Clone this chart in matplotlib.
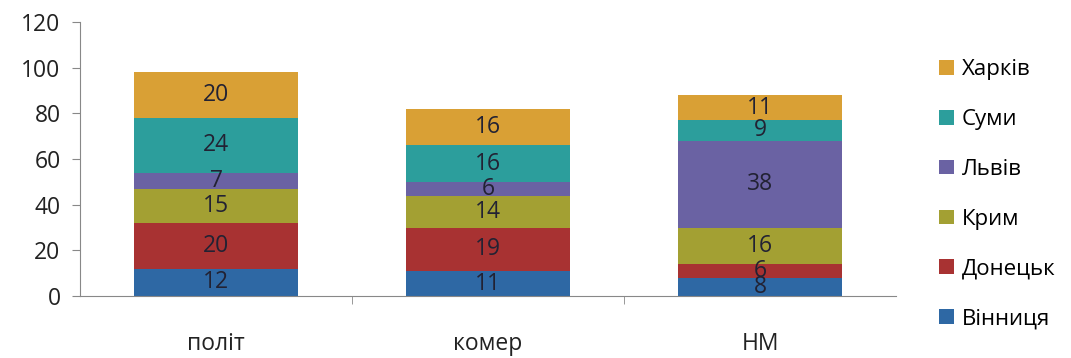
import matplotlib.pyplot as plt
import numpy as np
from matplotlib.patches import Patch

plt.rcParams['font.family'] = ['Open Sans', 'DejaVu Sans']

# Категорії та значення по регіонах
categories = ['політ', 'комер', 'НМ']
regions = ['Вінниця', 'Донецьк', 'Крим', 'Львів', 'Суми', 'Харків']
vinnytsia = [12, 11, 8]
donetsk = [20, 19, 6]
krym = [15, 14, 16]
lviv = [7, 6, 38]
sumy = [24, 16, 9]
kharkiv = [20, 16, 11]

series = [vinnytsia, donetsk, krym, lviv, sumy, kharkiv]
colors = ['#2e68a4', '#a83232', '#a3a033', '#6a62a3', '#2c9e9c', '#d9a035']

fig = plt.figure(figsize=(10.71, 3.58), dpi=100)
ax = fig.add_axes([0.0747, 0.173, 0.762, 0.7655])

x = np.arange(len(categories))
bottom = np.zeros(len(categories))
for vals, col in zip(series, colors):
    vals = np.array(vals, dtype=float)
    ax.bar(x, vals, width=0.6, bottom=bottom, color=col, edgecolor='none')
    for xi, b, v in zip(x, bottom, vals):
        ax.text(xi, b + v / 2, f'{v:.0f}', ha='center', va='center',
                fontsize=16.5, color='#222233')
    bottom += vals

ax.set_xlim(-0.5, 2.5)
ax.set_ylim(0, 120)
ax.set_yticks(range(0, 121, 20))
ax.set_xticks(x)
ax.set_xticklabels(categories)
ax.set_xticks([0.5, 1.5], minor=True)

for s in ['top', 'right']:
    ax.spines[s].set_visible(False)
ax.spines['left'].set_color('#888888')
ax.spines['bottom'].set_color('#888888')
ax.tick_params(axis='y', length=6, color='#888888', labelsize=16.5, pad=8, labelcolor='#222222')
ax.tick_params(axis='x', which='major', length=0, labelsize=16.5, pad=26, labelcolor='#222222')
ax.tick_params(axis='x', which='minor', length=6, color='#888888')

handles = [Patch(facecolor=c, edgecolor='none', label=r) for c, r in zip(colors, regions)]
ax.legend(handles=handles[::-1], loc='upper left', bbox_to_anchor=(0.877, 0.835),
          bbox_transform=fig.transFigure, frameon=False, fontsize=16,
          handlelength=0.65, handleheight=0.65, handletextpad=0.35, labelspacing=1.3,
          borderaxespad=0, borderpad=0)

fig.savefig('out.png', dpi=100)
